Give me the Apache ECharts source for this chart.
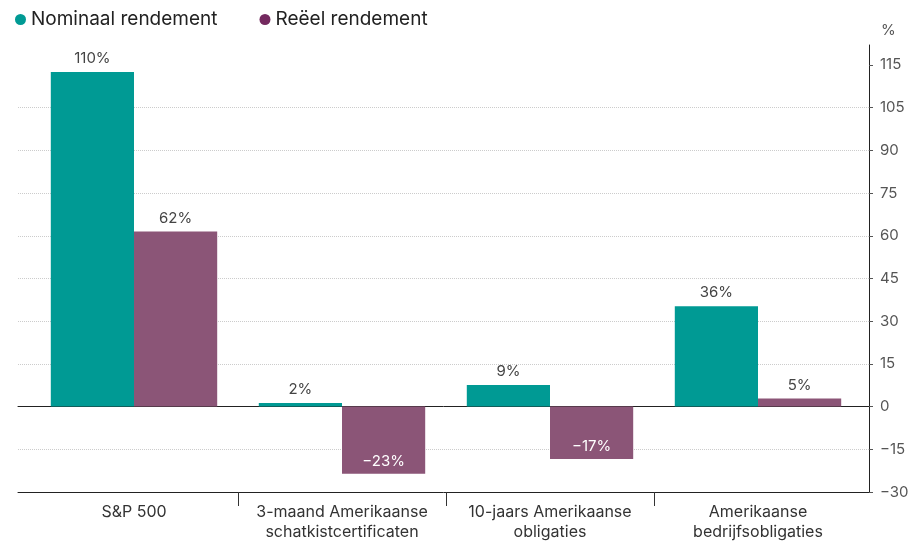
<!DOCTYPE html>
<html>
<head>
<meta charset="utf-8">
<script src="https://cdn.jsdelivr.net/npm/echarts@6/dist/echarts.min.js"></script>
<style>
html,body{margin:0;padding:0;background:#fff;}
#chart{width:923px;height:543px;}
</style>
</head>
<body>
<div id="chart"></div>
<script>
const categories = ['S&P 500', '3-maand Amerikaanse\nschatkistcertificaten', '10-jaars Amerikaanse\nobligaties', 'Amerikaanse\nbedrijfsobligaties'];
const seriesNames = ['Nominaal rendement', 'Reëel rendement'];
const nominalValues = [117.5, 1.3, 7.6, 35.2];
const realValues = [61.5, -23.6, -18.4, 2.8];
const nominalLabels = ['110%', '2%', '9%', '36%'];
const realLabels = ['62%', '−23%', '−17%', '5%'];
const yTickValues = [-30, -15, 0, 15, 30, 45, 60, 75, 90, 105, 120];
const yTickLabels = ['−30', '−15', '0', '15', '30', '45', '60', '75', '90', '105', '115'];
const yMin = -30, yMax = 127;

const FONT = 'Inter';
const TEAL = '#009a94';
const PURPLE = '#8b5577';
const PURPLE_DOT = '#74295f';

const boundaries = categories.slice(1).map((_, i) => i + 1);

function items(values, labels) {
  return values.map((v, i) => ({
    value: v,
    label: {
      formatter: labels[i],
      position: v < 0 ? 'insideBottom' : 'top',
      color: v < 0 ? '#ffffff' : '#444444',
      distance: v < 0 ? 5 : 6
    }
  }));
}

const chart = echarts.init(document.getElementById('chart'), null, {renderer: 'canvas'});
chart.setOption({
  animation: false,
  textStyle: {fontFamily: FONT},
  legend: {
    left: 10, top: 5, icon: 'circle', itemWidth: 11, itemHeight: 11, itemGap: 42,
    textStyle: {fontFamily: FONT, fontSize: 19, color: '#222'},
    data: [
      {name: seriesNames[0], itemStyle: {color: TEAL}},
      {name: seriesNames[1], itemStyle: {color: PURPLE_DOT}}
    ]
  },
  grid: [
    {left: 30, right: 61, top: 45, bottom: 51},
    {left: 18, right: 54, top: 45, bottom: 51}
  ],
  xAxis: [
    {gridIndex: 0, type: 'category', data: categories, position: 'bottom',
     axisLine: {show: false, onZero: false}, axisTick: {show: false},
     axisLabel: {interval: 0, fontFamily: FONT, fontSize: 16, color: '#333', margin: 10, lineHeight: 20}},
    {gridIndex: 0, type: 'value', min: 0, max: categories.length, position: 'bottom',
     axisLine: {show: false, onZero: false},
     axisTick: {show: true, length: 14, customValues: boundaries, lineStyle: {color: '#333'}},
     axisLabel: {show: false}, splitLine: {show: false}},
    {gridIndex: 1, type: 'value', min: 0, max: 1, position: 'bottom',
     axisLine: {show: true, onZero: false, lineStyle: {color: '#222', width: 1}},
     axisTick: {show: false}, axisLabel: {show: false}, splitLine: {show: false}},
    {gridIndex: 1, type: 'value', min: 0, max: 1, position: 'bottom',
     axisLine: {show: true, onZero: true, lineStyle: {color: '#222', width: 1}},
     axisTick: {show: false}, axisLabel: {show: false}, splitLine: {show: false}}
  ],
  yAxis: [
    {gridIndex: 0, type: 'value', min: yMin, max: yMax, interval: 15, show: false,
     axisLine: {onZero: false}, splitLine: {show: false}},
    {gridIndex: 1, type: 'value', min: yMin, max: yMax, interval: 15, position: 'right',
     name: '%', nameLocation: 'end', nameGap: 7,
     nameTextStyle: {fontFamily: FONT, fontSize: 15, color: '#555', align: 'left', padding: [0, 0, 0, 12]},
     axisLine: {show: true, onZero: false, lineStyle: {color: '#222', width: 1}},
     axisTick: {show: true, length: 4, customValues: yTickValues, lineStyle: {color: '#555'}},
     axisLabel: {customValues: yTickValues, fontFamily: FONT, fontSize: 15, color: '#555', margin: 11,
       formatter: v => { const i = yTickValues.indexOf(v); return i >= 0 ? yTickLabels[i] : ''; }},
     splitLine: {show: true, showMaxLine: false, lineStyle: {color: '#cccccc', type: 'dotted', width: 1}}}
  ],
  series: [
    {name: seriesNames[0], type: 'bar', xAxisIndex: 0, yAxisIndex: 0, data: items(nominalValues, nominalLabels),
     itemStyle: {color: TEAL}, barGap: '0%', barCategoryGap: '20%',
     label: {show: true, fontFamily: FONT, fontSize: 15}},
    {name: seriesNames[1], type: 'bar', xAxisIndex: 0, yAxisIndex: 0, data: items(realValues, realLabels),
     itemStyle: {color: PURPLE}, barGap: '0%', barCategoryGap: '20%',
     label: {show: true, fontFamily: FONT, fontSize: 15}}
  ]
});
</script>
</body>
</html>
